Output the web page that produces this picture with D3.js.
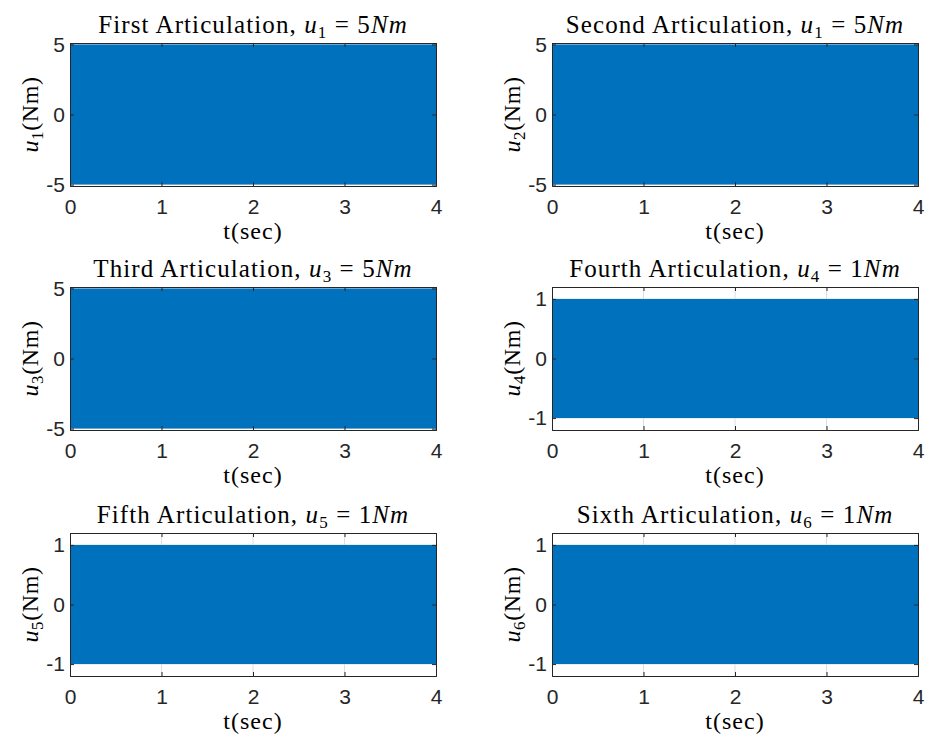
<!DOCTYPE html>
<html>
<head>
<meta charset="utf-8">
<script src="https://cdn.jsdelivr.net/npm/d3@7"></script>
<style>
  body { margin: 0; background: #fff; }
  svg { display: block; }
</style>
</head>
<body>
<div id="chart"></div>
<script>
// six torque panels, 3 rows x 2 columns, like the matlab subplot figure

// envelope of the (very dense) oscillating torque, sampled every 0.5 s
const tEnv = [0, 0.5, 1, 1.5, 2, 2.5, 3, 3.5, 4];
const u1Upper = [4.99, 4.99, 5.0, 4.99, 4.99, 5.0, 4.99, 4.99, 4.99];
const u1Lower = [-4.99, -4.99, -5.0, -4.99, -4.99, -5.0, -4.99, -4.99, -4.99];
const u2Upper = [4.99, 5.0, 4.99, 4.99, 5.0, 4.99, 4.99, 5.0, 4.99];
const u2Lower = [-4.99, -5.0, -4.99, -4.99, -5.0, -4.99, -4.99, -5.0, -4.99];
const u3Upper = [4.99, 4.99, 4.99, 5.0, 4.99, 4.99, 5.0, 4.99, 4.99];
const u3Lower = [-4.99, -4.99, -4.99, -5.0, -4.99, -4.99, -5.0, -4.99, -4.99];
const u4Upper = [1.0, 1.0, 1.0, 1.0, 1.0, 1.0, 1.0, 1.0, 1.0];
const u4Lower = [-1.0, -1.0, -1.0, -1.0, -1.0, -1.0, -1.0, -1.0, -1.0];
const u5Upper = [1.0, 1.0, 1.0, 1.0, 1.0, 1.0, 1.0, 1.0, 1.0];
const u5Lower = [-1.0, -1.0, -1.0, -1.0, -1.0, -1.0, -1.0, -1.0, -1.0];
const u6Upper = [1.0, 1.0, 1.0, 1.0, 1.0, 1.0, 1.0, 1.0, 1.0];
const u6Lower = [-1.0, -1.0, -1.0, -1.0, -1.0, -1.0, -1.0, -1.0, -1.0];

const titleWords = ["First Articulation, ", "Second Articulation, ", "Third Articulation, ",
                    "Fourth Articulation, ", "Fifth Articulation, ", "Sixth Articulation, "];
const titleSubs = ["1", "1", "3", "4", "5", "6"];   // second title really says u_1
const titleValues = ["5", "5", "5", "1", "1", "1"];
const ylabelSubs = ["1", "2", "3", "4", "5", "6"];
const upperSeries = [u1Upper, u2Upper, u3Upper, u4Upper, u5Upper, u6Upper];
const lowerSeries = [u1Lower, u2Lower, u3Lower, u4Lower, u5Lower, u6Lower];
const yLimits = [5.1, 5.1, 5.1, 1.2, 1.2, 1.2];
const yTickSets = [[-5, 0, 5], [-5, 0, 5], [-5, 0, 5], [-1, 0, 1], [-1, 0, 1], [-1, 0, 1]];
const xTicks = [0, 1, 2, 3, 4];

const width = 929, height = 738;
const colLeft = [70, 552], plotW = 366;
const rowTop = [43, 287, 533], plotH = 143;
const blue = "#0072BD", axisColor = "#262626", gridColor = "#dedede";
const serif = "'Liberation Serif', 'Times New Roman', serif";
const sans = "'Liberation Sans', Arial, Helvetica, sans-serif";

const svg = d3.select("#chart")
  .append("svg")
  .attr("width", width)
  .attr("height", height);

titleWords.forEach((word, i) => {
  const left = colLeft[i % 2], top = rowTop[Math.floor(i / 2)];
  const g = svg.append("g").attr("transform", `translate(${left},${top})`);

  const x = d3.scaleLinear().domain([0, 4]).range([0, plotW]);
  const y = d3.scaleLinear().domain([-yLimits[i], yLimits[i]]).range([plotH, 0]);

  // grid lines (sit under the data, like matlab)
  g.append("g").selectAll("line")
    .data(xTicks.slice(1, -1))
    .enter().append("line")
      .attr("x1", d => x(d)).attr("x2", d => x(d))
      .attr("y1", 0).attr("y2", plotH)
      .attr("stroke", gridColor).attr("stroke-width", 1);
  g.append("g").selectAll("line")
    .data(yTickSets[i])
    .enter().append("line")
      .attr("x1", 0).attr("x2", plotW)
      .attr("y1", d => y(d)).attr("y2", d => y(d))
      .attr("stroke", gridColor).attr("stroke-width", 1);

  // the oscillation band
  const env = tEnv.map((t, k) => ({ t: t, hi: upperSeries[i][k], lo: lowerSeries[i][k] }));
  g.append("path")
    .datum(env)
    .attr("fill", blue)
    .attr("d", d3.area().x(d => x(d.t)).y0(d => y(d.lo)).y1(d => y(d.hi)));

  // axes, ticks pointing inwards, labels outside
  const xAxis = g.append("g")
    .attr("transform", `translate(0,${plotH})`)
    .call(d3.axisBottom(x).tickValues(xTicks).tickSize(-4).tickPadding(13).tickFormat(d3.format("d")));
  const xTop = g.append("g")
    .call(d3.axisTop(x).tickValues(xTicks).tickSize(-4).tickFormat(""));
  const yAxis = g.append("g")
    .call(d3.axisLeft(y).tickValues(yTickSets[i]).tickSize(-4).tickPadding(5).tickFormat(d3.format("d")));
  const yRight = g.append("g")
    .attr("transform", `translate(${plotW},0)`)
    .call(d3.axisRight(y).tickValues(yTickSets[i]).tickSize(-4).tickFormat(""));

  [xAxis, xTop, yAxis, yRight].forEach(a => {
    a.select(".domain").attr("stroke", axisColor).attr("stroke-width", 1);
    a.selectAll(".tick line").attr("stroke", axisColor);
    a.selectAll(".tick text")
      .attr("fill", axisColor)
      .style("font-family", sans)
      .style("font-size", "21px");
  });
  yAxis.selectAll(".tick text").text(d => d < 0 ? "-" + Math.abs(d) : d);

  // title with the latex-ish math part
  const title = g.append("text")
    .attr("x", plotW / 2)
    .attr("y", -10)
    .attr("text-anchor", "middle")
    .style("font-family", serif)
    .style("font-size", "25px")
    .style("letter-spacing", "1.1px")
    .attr("fill", "#000");
  title.append("tspan").text(word);
  title.append("tspan").style("font-style", "italic").text("u");
  title.append("tspan").attr("dy", 5).style("font-size", "17px").text(titleSubs[i]);
  title.append("tspan").attr("dy", -5).text(" = " + titleValues[i]);
  title.append("tspan").style("font-style", "italic").text("Nm");

  // x label
  g.append("text")
    .attr("x", plotW / 2)
    .attr("y", plotH + 53)
    .attr("text-anchor", "middle")
    .style("font-family", serif)
    .style("font-size", "24px")
    .style("letter-spacing", "1px")
    .attr("fill", "#000")
    .text("t(sec)");

  // y label
  const ylab = g.append("text")
    .attr("transform", `translate(-32,${plotH / 2}) rotate(-90)`)
    .attr("text-anchor", "middle")
    .style("font-family", serif)
    .style("font-size", "24px")
    .style("letter-spacing", "0.6px")
    .attr("fill", "#000");
  ylab.append("tspan").style("font-style", "italic").text("u");
  ylab.append("tspan").attr("dy", 5).style("font-size", "17px").text(ylabelSubs[i]);
  ylab.append("tspan").attr("dy", -5).text("(Nm)");
});
</script>
</body>
</html>
